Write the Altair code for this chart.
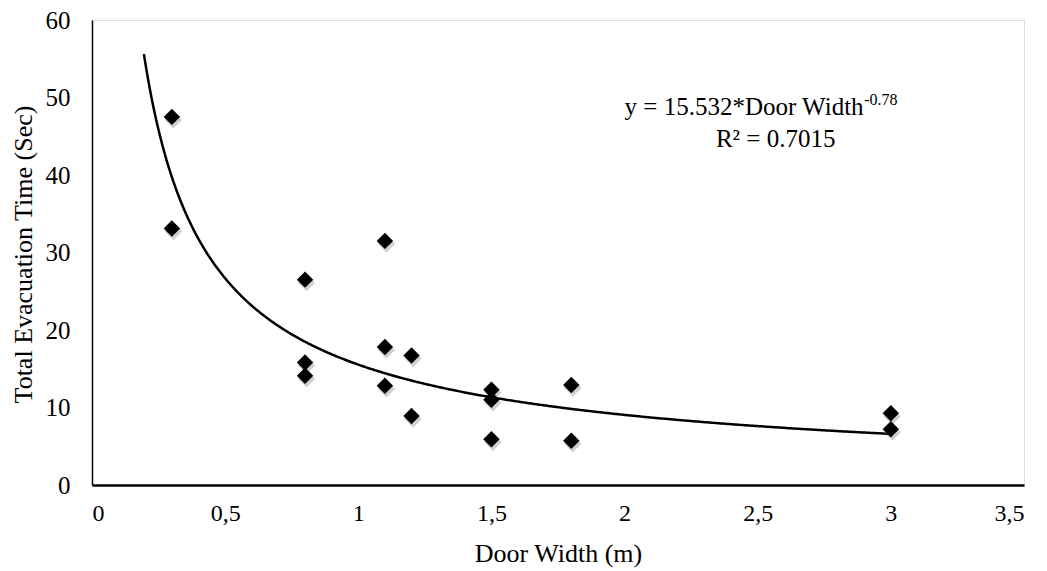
import altair as alt
import pandas as pd

# Data
door_width = [0.3, 0.3, 0.8, 0.8, 0.8, 1.1, 1.1, 1.1, 1.2, 1.2, 1.5, 1.5, 1.5, 1.8, 1.8, 3.0, 3.0]
evac_time = [47.5, 33.1, 26.5, 15.8, 14.1, 31.5, 17.8, 12.8, 16.7, 8.9, 12.3, 11.0, 5.9, 12.9, 5.7, 9.25, 7.2]

# Trend line as given by the equation on the chart
coef_a = 15.532
coef_b = -0.78
trend_start = 0.195
trend_stop = 3.0

x_ticks = [0, 0.5, 1, 1.5, 2, 2.5, 3, 3.5]
y_ticks = [0, 10, 20, 30, 40, 50, 60]

eq_text = "y = 15.532*Door Width"
eq_sup = "-0.78"
r2_text = "R² = 0.7015"

FONT = "Liberation Serif"

df = pd.DataFrame({"x": door_width, "y": evac_time})

xscale = alt.Scale(domain=[0, 3.5], nice=False, zero=False)
yscale = alt.Scale(domain=[0, 60], nice=False, zero=False)

x_axis = alt.Axis(
    values=x_ticks, labelExpr="replace(format(datum.value, ''), '.', ',')",
    grid=False, ticks=False, domainColor="black", domainWidth=2.5,
    labelFont=FONT, labelFontSize=24, labelColor="black", labelPadding=16,
    title="Door Width (m)", titleFont=FONT, titleFontSize=26, titleFontWeight="normal",
    titleColor="black", titleX=466, titleY=68, titleBaseline="middle",
)
y_axis = alt.Axis(
    values=y_ticks, grid=False, ticks=False, domainColor="black", domainWidth=1.5,
    labelFont=FONT, labelFontSize=25, labelColor="black", labelPadding=22,
    title="Total Evacuation Time (Sec)", titleFont=FONT, titleFontSize=26,
    titleFontWeight="normal", titleColor="black", titleX=-69, titleY=234,
    titleBaseline="middle",
)

base = alt.Chart(df)

shadow = base.mark_point(
    shape="diamond", filled=True, color="#777777", opacity=0.35, size=300,
    xOffset=1.5, yOffset=3,
).encode(
    x=alt.X("x:Q", scale=xscale, axis=x_axis),
    y=alt.Y("y:Q", scale=yscale, axis=y_axis),
)

points = base.mark_point(
    shape="diamond", filled=True, color="black", opacity=1, size=270,
).encode(
    x=alt.X("x:Q", scale=xscale),
    y=alt.Y("y:Q", scale=yscale),
)

trend = alt.Chart(alt.sequence(start=trend_start, stop=trend_stop + 0.0001, step=0.005, as_="x")).transform_calculate(
    y=f"{coef_a} * pow(datum.x, {coef_b})"
).mark_line(color="black", strokeWidth=2.5).encode(
    x=alt.X("x:Q", scale=xscale),
    y=alt.Y("y:Q", scale=yscale),
)

ann_df = pd.DataFrame({
    "x": [2.0, 2.9, 2.343],
    "y": [47.7, 49.0, 43.6],
    "t": [eq_text, eq_sup, r2_text],
    "s": [25, 16, 25],
})
annot = alt.Chart(ann_df).mark_text(
    font=FONT, color="black", align="left", baseline="alphabetic",
).encode(
    x=alt.X("x:Q", scale=xscale),
    y=alt.Y("y:Q", scale=yscale),
    text="t:N",
    size=alt.Size("s:Q", scale=None, legend=None),
)

chart = alt.layer(trend, shadow, points, annot).properties(
    width=932, height=465,
    autosize=alt.AutoSizeParams(type="none"),
    padding={"left": 84, "top": 12, "right": 12, "bottom": 86},
).configure_view(stroke="#888888", strokeWidth=1).configure(background="white")

chart.save("out.html", embed_options={"renderer": "svg", "actions": False})
